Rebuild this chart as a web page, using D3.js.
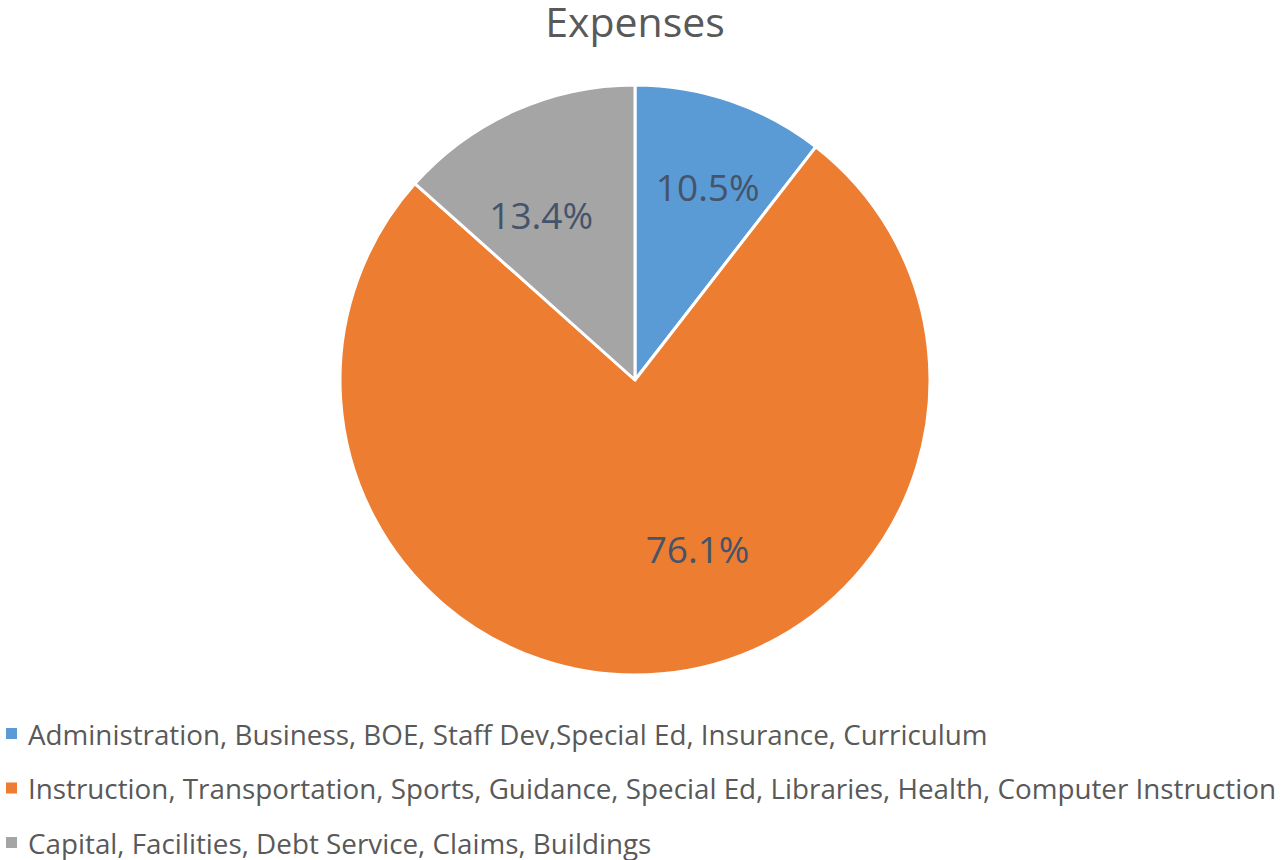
<!DOCTYPE html>
<html>
<head>
<meta charset="utf-8">
<script src="https://cdn.jsdelivr.net/npm/d3@7"></script>
<style>
  html, body { margin: 0; padding: 0; background: #ffffff; }
  svg { display: block; }
  text { font-family: "Open Sans", Lato, sans-serif; }
</style>
</head>
<body>
<svg id="chart" width="1281" height="860"></svg>
<script>
// Expense categories and their shares (percent of total)
const categories = [
  "Administration, Business, BOE, Staff Dev,Special Ed, Insurance, Curriculum",
  "Instruction, Transportation, Sports, Guidance, Special Ed, Libraries, Health, Computer Instruction",
  "Capital, Facilities, Debt Service, Claims, Buildings"
];
const values = [10.5, 76.1, 13.4];
const colors = ["#5B9BD5", "#ED7D31", "#A5A5A5"];
const title = "Expenses";

const W = 1281, H = 860;
const cx = 635, cy = 380, R = 295;

const svg = d3.select("#chart");

// Title
svg.append("text")
  .attr("x", cx)
  .attr("y", 37)
  .attr("text-anchor", "middle")
  .attr("font-size", 41)
  .attr("fill", "#595959")
  .text(title);

const pie = d3.pie().sort(null).value(d => d);
const arcs = pie(values);
const arc = d3.arc().innerRadius(0).outerRadius(R);

const g = svg.append("g").attr("transform", `translate(${cx},${cy})`);

g.selectAll("path.slice")
  .data(arcs)
  .join("path")
  .attr("class", "slice")
  .attr("d", arc)
  .attr("fill", (d, i) => colors[i])
  .attr("stroke", "#ffffff")
  .attr("stroke-width", 3)
  .attr("stroke-linejoin", "round");

// Label placement: distance from centre (fraction of radius) and an angular
// nudge, so the large slice's label sits lower-left of its mid-angle.
const labelRadius = [0.70, 0.61, 0.645];
const labelNudge = [0.03, -0.264, -0.095];
const fmt = v => v.toFixed(1) + "%";

g.selectAll("text.pct")
  .data(arcs)
  .join("text")
  .attr("class", "pct")
  .attr("transform", (d, i) => {
    const a = (d.startAngle + d.endAngle) / 2 + labelNudge[i];
    const r = R * labelRadius[i];
    return `translate(${r * Math.sin(a)},${-r * Math.cos(a)})`;
  })
  .attr("text-anchor", "middle")
  .attr("dominant-baseline", "central")
  .attr("font-size", 37)
  .attr("fill", "#44546A")
  .text(d => fmt(d.data));

// Legend
const legendY = d3.scalePoint().domain(d3.range(categories.length)).range([734, 843]);
const legend = svg.append("g");
const items = legend.selectAll("g.item")
  .data(categories)
  .join("g")
  .attr("class", "item")
  .attr("transform", (d, i) => `translate(0,${legendY(i)})`);

items.append("rect")
  .attr("x", 6)
  .attr("y", -6)
  .attr("width", 11)
  .attr("height", 11)
  .attr("fill", (d, i) => colors[i]);

items.append("text")
  .attr("x", 28)
  .attr("y", 10.5)
  .attr("font-size", 27.8)
  .attr("fill", "#595959")
  .text(d => d);
</script>
</body>
</html>
